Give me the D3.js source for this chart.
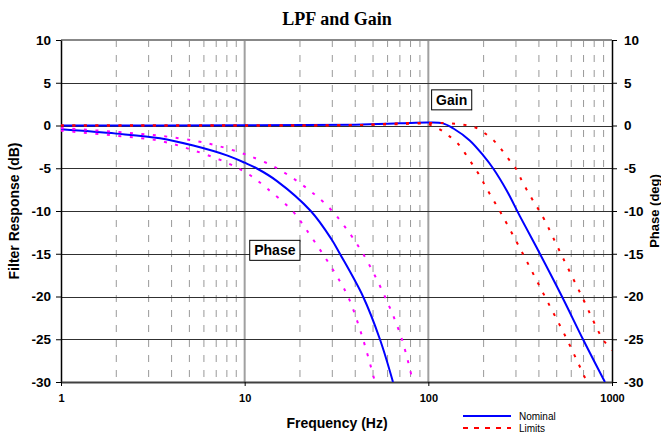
<!DOCTYPE html>
<html>
<head>
<meta charset="utf-8">
<script src="https://cdn.jsdelivr.net/npm/d3@7"></script>
<style>
  body { margin: 0; background: #fff; }
  svg { display: block; font-family: "Liberation Sans", Arial, sans-serif; }
</style>
</head>
<body>
<div id="chart"></div>
<script>
// axis ticks
const xTicks = [1, 10, 100, 1000];
const yTicks = [10, 5, 0, -5, -10, -15, -20, -25, -30];

// gain, nominal + limits (Hz / dB)
const gainNomHz = [1, 10, 40, 70, 100, 120, 137, 168, 199, 225, 267, 315, 405, 534, 695, 915];
const gainNomDb = [0, 0.02, 0.1, 0.25, 0.35, 0.25, -0.35, -1.75, -3.5, -5, -7.6, -10.6, -15, -20, -25, -30];
const gainLoHz = [1, 10, 40, 85, 100, 116, 131, 146, 158, 172, 187, 201, 216, 233, 251, 327, 431, 568, 730];
const gainLoDb = [0, 0, 0.05, 0.3, 0.15, -0.47, -1.3, -2.2, -3.2, -4.4, -5.6, -6.8, -8, -9.2, -10.4, -15, -20, -25, -30];
const gainHiHz = [1, 10, 40, 80, 120, 155, 179, 203, 228, 251, 275, 299, 322, 345, 372, 400, 428, 527, 686, 892, 1000];
const gainHiDb = [0, 0, 0.05, 0.2, 0.3, 0.1, -0.2, -0.9, -1.8, -2.85, -4, -5, -6.4, -7.6, -8.8, -9.9, -11, -15, -20, -25, -26.3];

// phase, nominal + limits
const phaseNomHz = [1, 2, 3.46, 5.25, 8, 10, 11.6, 15, 22.9, 29.7, 33, 44.1, 54.5, 64.2];
const phaseNomDb = [-0.45, -0.95, -1.5, -2.35, -3.5, -4.35, -5, -6.5, -10, -13.3, -15, -20, -25, -30];
const phaseHiHz = [1, 2, 3.46, 5.4, 7.2, 9.4, 10.9, 14.3, 18.4, 23.2, 29.1, 35, 44.1, 58, 71.8, 82.4];
const phaseHiDb = [-0.3, -0.75, -1.2, -1.8, -2.4, -3.15, -3.65, -4.75, -6.2, -7.8, -9.7, -11.8, -15, -20, -25, -30];
const phaseLoHz = [1, 2, 3.46, 5.25, 8, 10.5, 13.3, 18.4, 21.7, 30.3, 36.5, 44.1, 51.2];
const phaseLoDb = [-0.6, -1.2, -1.8, -2.9, -4.35, -5.7, -7.4, -10.1, -12.2, -16.9, -20, -25, -30];

const width = 661, height = 433;
const margin = { top: 40, right: 49, bottom: 51, left: 61 };

const svg = d3.select('#chart').append('svg').attr('width', width).attr('height', height);

const x = d3.scaleLog().domain([1, 1000]).range([margin.left, width - margin.right]);
const y = d3.scaleLinear().domain([-30, 10]).range([height - margin.bottom, margin.top]);

// minor log grid
const minor = xTicks.slice(0, -1).flatMap(d => d3.range(2, 10).map(k => k * d));

const grid = svg.append('g');
grid.selectAll('line.minor').data(minor).enter().append('line')
  .attr('x1', d => x(d)).attr('x2', d => x(d))
  .attr('y1', y(10)).attr('y2', y(-30))
  .attr('stroke', '#999').attr('stroke-width', 1).attr('stroke-dasharray', '7,8');
grid.selectAll('line.major').data([10, 100]).enter().append('line')
  .attr('x1', d => x(d)).attr('x2', d => x(d))
  .attr('y1', y(10)).attr('y2', y(-30))
  .attr('stroke', '#a0a0a0').attr('stroke-width', 2);
grid.selectAll('line.h').data(yTicks.filter(d => d > -30 && d < 10)).enter().append('line')
  .attr('x1', x(1)).attr('x2', x(1000))
  .attr('y1', d => Math.round(y(d)) + 0.5).attr('y2', d => Math.round(y(d)) + 0.5)
  .attr('stroke', '#303030').attr('stroke-width', 1);
grid.append('line')
  .attr('x1', x(1)).attr('x2', x(1000)).attr('y1', y(10)).attr('y2', y(10))
  .attr('stroke', '#888').attr('stroke-width', 2);

// axes
const fmt = d => String(d);
const axisL = svg.append('g').attr('transform', `translate(${x(1)},0)`)
  .call(d3.axisLeft(y).tickValues(yTicks).tickFormat(fmt).tickSize(5).tickSizeOuter(0).tickPadding(5));
const axisR = svg.append('g').attr('transform', `translate(${x(1000)},0)`)
  .call(d3.axisRight(y).tickValues(yTicks).tickFormat(fmt).tickSize(5).tickSizeOuter(0).tickPadding(7));
const axisB = svg.append('g').attr('transform', `translate(0,${y(-30)})`)
  .call(d3.axisBottom(x).tickValues(xTicks).tickFormat(fmt).tickSize(4).tickSizeOuter(0).tickPadding(8));

[axisL, axisR, axisB].forEach(a => {
  a.select('.domain').attr('stroke', '#000').attr('stroke-width', 1.5);
  a.selectAll('.tick line').attr('stroke', '#000');
  a.selectAll('.tick text').attr('font-weight', 'bold').attr('fill', '#000')
    .attr('font-family', '"Liberation Sans", Arial, sans-serif');
});
axisL.selectAll('.tick text').attr('font-size', 13.5);
axisR.selectAll('.tick text').attr('font-size', 13.5);
axisB.selectAll('.tick text').attr('font-size', 11);
axisB.select('.domain').attr('stroke', '#404040').attr('stroke-width', 2);

// curves
svg.append('clipPath').attr('id', 'plot').append('rect')
  .attr('x', x(1)).attr('y', y(10)).attr('width', x(1000) - x(1)).attr('height', y(-30) - y(10));

const line = d3.line().x(d => x(d[0])).y(d => y(d[1])).curve(d3.curveCatmullRom.alpha(0.5));
const zip = (hz, db) => hz.map((f, i) => [f, db[i]]);

const series = [
  { data: zip(gainNomHz, gainNomDb), color: '#0000ff', dash: null },
  { data: zip(phaseNomHz, phaseNomDb), color: '#0000ff', dash: null },
  { data: zip(phaseHiHz, phaseHiDb), color: '#ff00ff', dash: '3,8.5' },
  { data: zip(phaseLoHz, phaseLoDb), color: '#ff00ff', dash: '3,8.5' },
  { data: zip(gainLoHz, gainLoDb), color: '#ff0000', dash: '3,8.5' },
  { data: zip(gainHiHz, gainHiDb), color: '#ff0000', dash: '3,8.5' }
];

svg.append('g').attr('clip-path', 'url(#plot)')
  .selectAll('path').data(series).enter().append('path')
  .attr('d', d => line(d.data))
  .attr('fill', 'none')
  .attr('stroke', d => d.color)
  .attr('stroke-width', 2)
  .attr('stroke-dasharray', d => d.dash);

// curve labels
const tag = (text, f, v) => {
  const g = svg.append('g').attr('transform', `translate(${x(f)},${y(v)})`);
  const t = g.append('text').text(text).attr('text-anchor', 'middle').attr('dy', '0.36em')
    .attr('font-size', 14).attr('font-weight', 'bold');
  const w = t.node().getComputedTextLength() + 9;
  g.insert('rect', 'text').attr('x', -w / 2).attr('y', -10).attr('width', w).attr('height', 20)
    .attr('fill', '#fff').attr('stroke', '#000').attr('stroke-width', 1);
};
tag('Gain', 134, 3);
tag('Phase', 14.6, -14.6);

// titles
svg.append('text').text('LPF and Gain')
  .attr('x', 337).attr('y', 25).attr('text-anchor', 'middle')
  .attr('font-family', '"Liberation Serif", "Times New Roman", serif')
  .attr('font-weight', 'bold').attr('font-size', 18);
svg.append('text').text('Frequency (Hz)')
  .attr('x', 337).attr('y', 428).attr('text-anchor', 'middle')
  .attr('font-weight', 'bold').attr('font-size', 14);
svg.append('text').text('Filter Response (dB)')
  .attr('transform', `translate(19,${(y(10) + y(-30)) / 2}) rotate(-90)`)
  .attr('text-anchor', 'middle').attr('font-weight', 'bold').attr('font-size', 14);
svg.append('text').text('Phase (deg)')
  .attr('transform', `translate(659,${(y(10) + y(-30)) / 2}) rotate(-90)`)
  .attr('text-anchor', 'middle').attr('font-weight', 'bold').attr('font-size', 13);

// legend
const legend = svg.append('g').attr('transform', 'translate(463,416)');
[['Nominal', '#0000ff', null], ['Limits', '#ff0000', '5,6']].forEach((d, i) => {
  legend.append('line').attr('x1', 0).attr('x2', 48).attr('y1', i * 12).attr('y2', i * 12)
    .attr('stroke', d[1]).attr('stroke-width', 2).attr('stroke-dasharray', d[2]);
  legend.append('text').text(d[0]).attr('x', 56).attr('y', i * 12 + 4)
    .attr('font-size', 10);
});
</script>
</body>
</html>
